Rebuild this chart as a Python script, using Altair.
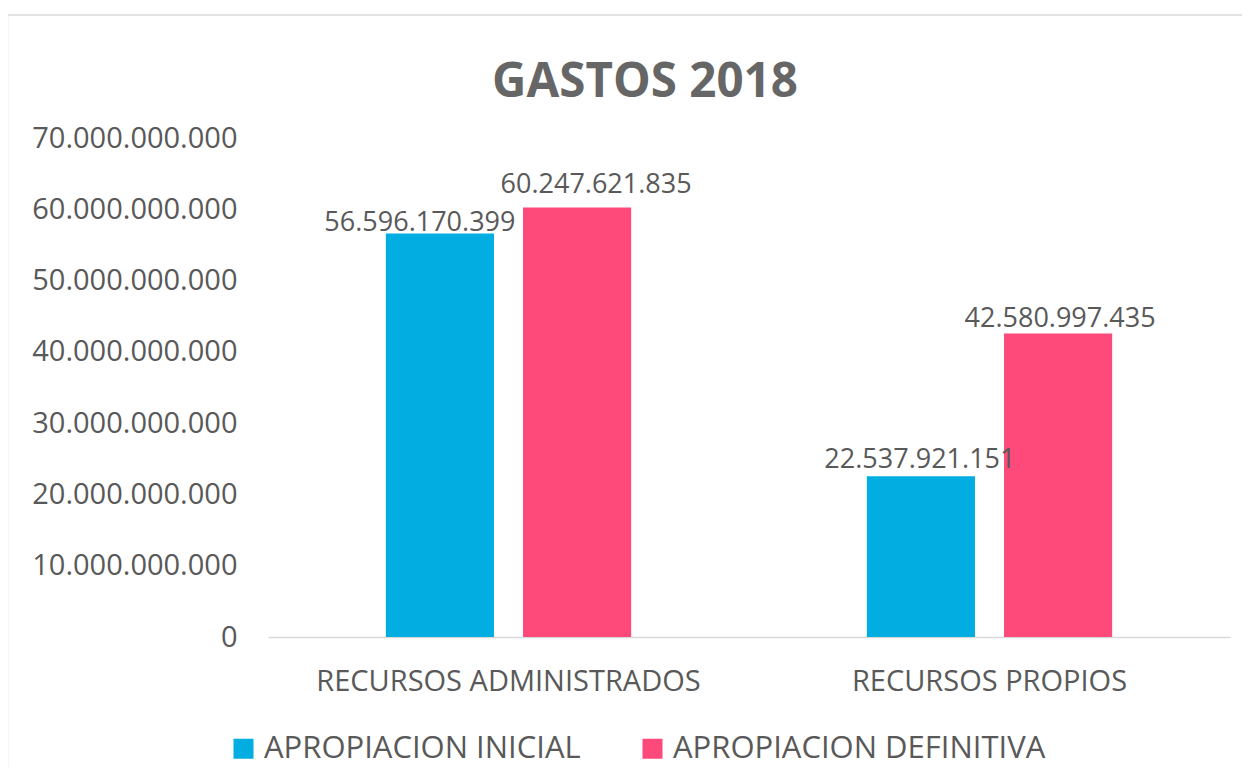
import altair as alt
import pandas as pd

categories = ["RECURSOS ADMINISTRADOS", "RECURSOS PROPIOS"]
series = ["APROPIACION INICIAL", "APROPIACION DEFINITIVA"]
inicial = [56596170399, 22537921151]
definitiva = [60247621835, 42580997435]
y_ticks = [0, 10000000000, 20000000000, 30000000000, 40000000000,
           50000000000, 60000000000, 70000000000]
colors = ["#02ADE1", "#FE497B"]

rows = []
for i, c in enumerate(categories):
    rows.append({"cat": c, "serie": series[0], "valor": inicial[i], "key": f"{i}-0"})
    rows.append({"cat": c, "serie": series[1], "valor": definitiva[i], "key": f"{i}-1"})
df = pd.DataFrame(rows)

FONT = "Open Sans"
GRAY = "#595959"

x_enc = alt.X("cat:N", sort=categories, title=None,
              scale=alt.Scale(paddingInner=0.49, paddingOuter=0.245),
              axis=alt.Axis(labelAngle=0, labelFontSize=29, labelColor=GRAY,
                            labelFont=FONT, ticks=False, domainColor="#D9D9D9",
                            domainWidth=1.5, labelPadding=30, labelLimit=0))
xo_enc = alt.XOffset("serie:N", sort=series,
                     scale=alt.Scale(paddingInner=0.2117, paddingOuter=0))
y_enc = alt.Y("valor:Q", title=None,
              scale=alt.Scale(domain=[0, 70000000000], nice=False),
              axis=alt.Axis(values=y_ticks, format=",.0f", labelFontSize=29,
                            labelColor=GRAY, labelFont=FONT, ticks=False,
                            domain=False, grid=False, labelPadding=31, labelLimit=0))

base = alt.Chart(df)

bars = base.mark_bar().encode(
    x=x_enc, xOffset=xo_enc, y=y_enc,
    color=alt.Color("serie:N", sort=series,
                    scale=alt.Scale(domain=series, range=colors),
                    legend=alt.Legend(title=None, orient="none", direction="horizontal",
                                      legendX=-40, legendY=595, symbolType="square",
                                      symbolSize=400, symbolStrokeWidth=0,
                                      labelFontSize=31, labelFont=FONT,
                                      labelColor=GRAY, labelOffset=5,
                                      columnPadding=56, labelLimit=0))
)

offsets = {"0-0": (-20, -3), "0-1": (19, -15), "1-0": (-1, -8), "1-1": (2, -6)}
label_layers = []
for k, (dx, dy) in offsets.items():
    label_layers.append(
        base.transform_filter(alt.datum.key == k).mark_text(
            baseline="alphabetic", dx=dx, dy=dy, fontSize=27, font=FONT, color=GRAY
        ).encode(x=alt.X("cat:N", sort=categories), xOffset=alt.XOffset("serie:N", sort=series),
                 y="valor:Q", text=alt.Text("valor:Q", format=",.0f"))
    )

border = alt.Chart(pd.DataFrame({"a": [0]})).mark_rect(
    filled=False, stroke="#D9D9D9", strokeWidth=1.5
).encode(x=alt.value(-260.5), x2=alt.value(1100), y=alt.value(-123), y2=alt.value(800))

chart = alt.layer(border, bars, *label_layers).properties(
    width=962, height=499,
    padding={"left": 260, "top": 130, "right": 12, "bottom": 130},
    autosize=alt.AutoSizeParams(type="none"),
    title=alt.TitleParams("GASTOS 2018", fontSize=47.5, fontWeight="bold", color="#666666",
                          font=FONT, anchor="middle", dx=-104, offset=-92)
).configure(
    locale={"number": {"decimal": ",", "thousands": ".", "grouping": [3],
                       "currency": ["$", ""]}}
).configure_view(stroke=None)

chart.save("out.html", embed_options={"renderer": "svg", "actions": False})
